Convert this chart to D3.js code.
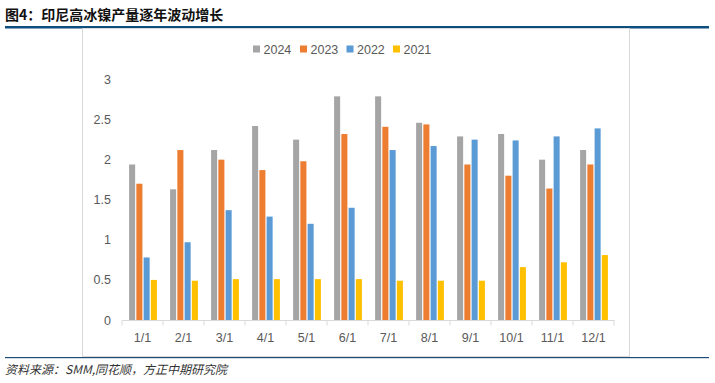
<!DOCTYPE html>
<html><head><meta charset="utf-8">
<script src="https://cdn.jsdelivr.net/npm/d3@7"></script>
<style>
html,body{margin:0;padding:0;background:#fff;}
svg{display:block;}
</style></head>
<body>
<svg id="c" width="715" height="383"></svg>
<script>
const categories = ["1/1","2/1","3/1","4/1","5/1","6/1","7/1","8/1","9/1","10/1","11/1","12/1"];
const seriesNames = ["2024","2023","2022","2021"];
const s2024 = [1.94,1.63,2.12,2.42,2.25,2.79,2.79,2.46,2.29,2.32,2.00,2.12];
const s2023 = [1.70,2.12,2.00,1.87,1.98,2.32,2.41,2.44,1.94,1.80,1.64,1.94];
const s2022 = [0.78,0.97,1.37,1.29,1.20,1.40,2.12,2.17,2.25,2.24,2.29,2.39];
const s2021 = [0.50,0.49,0.51,0.51,0.51,0.51,0.49,0.49,0.49,0.66,0.72,0.81];
const yTicks = [0,0.5,1,1.5,2,2.5,3];
const colors = ["#a5a5a5","#ed7d31","#5b9bd5","#ffc000"];

const values = [s2024,s2023,s2022,s2021];
const svg = d3.select("#c");

// title
svg.append("text").attr("x",5).attr("y",20)
  .attr("font-family","'Noto Sans CJK SC'").attr("font-weight","bold")
  .attr("font-size",14).attr("fill","#111").text("图4：印尼高冰镍产量逐年波动增长");
svg.append("rect").attr("x",5).attr("y",26).attr("width",704).attr("height",2.5).attr("fill","#0c4f7f");

// frame
svg.append("rect").attr("x",82.5).attr("y",28.5).attr("width",547).attr("height",328)
  .attr("fill","none").attr("stroke","#d9d9d9").attr("stroke-width",1);

// bottom line
svg.append("rect").attr("x",5).attr("y",357).attr("width",704).attr("height",1.2).attr("fill","#1f4e79");

// source
svg.append("text").attr("x",5).attr("y",374)
  .attr("font-family","'Noto Sans CJK SC'").attr("font-style","italic")
  .attr("font-size",12).attr("fill","#333").text("资料来源：SMM,同花顺，方正中期研究院");

const x0 = d3.scaleBand().domain(categories).range([122,614]).paddingInner(0).paddingOuter(0);
const x1 = d3.scaleBand().domain(seriesNames).range([6.5, 35.5]).padding(0);
const y = d3.scaleLinear().domain([0,3]).range([320,79.5]);

const font = "'Liberation Sans', Arial, sans-serif";

// y labels
svg.append("g").selectAll("text").data(yTicks).join("text")
  .attr("x",111).attr("y",d=>y(d)+4.5).attr("text-anchor","end")
  .attr("font-family",font).attr("font-size",12.5).attr("fill","#595959")
  .text(d=>d);

// bars
const g = svg.append("g");
categories.forEach((c,i)=>{
  seriesNames.forEach((s,j)=>{
    const v = values[j][i];
    g.append("rect")
      .attr("x", x0(c)+x1(s)+0.6)
      .attr("width", x1.bandwidth()-1.2)
      .attr("y", y(v))
      .attr("height", y(0)-y(v))
      .attr("fill", colors[j]);
  });
});

// x axis
const ax = svg.append("g").attr("transform","translate(0,320)")
  .call(d3.axisBottom(x0).tickSize(0).tickSizeOuter(0).tickPadding(0));
ax.select(".domain").attr("stroke","#d9d9d9");
ax.selectAll(".tick text").attr("font-family",font).attr("font-size",12.5).attr("fill","#595959").attr("dy",0).attr("y",21.5);
// boundary ticks
const bounds = categories.map(c=>x0(c)).concat([x0.range()[1]]);
svg.append("g").selectAll("line").data(bounds).join("line")
  .attr("x1",d=>d).attr("x2",d=>d).attr("y1",320).attr("y2",325.5)
  .attr("stroke","#d9d9d9").attr("stroke-width",1);

// legend
const legX = [253,300,346.5,393];
const leg = svg.append("g");
seriesNames.forEach((s,j)=>{
  leg.append("rect").attr("x",legX[j]).attr("y",45.5).attr("width",7).attr("height",7).attr("fill",colors[j]);
  leg.append("text").attr("x",legX[j]+10.5).attr("y",53.5)
    .attr("font-family",font).attr("font-size",12.5).attr("fill","#595959").text(s);
});
</script>
</body></html>
